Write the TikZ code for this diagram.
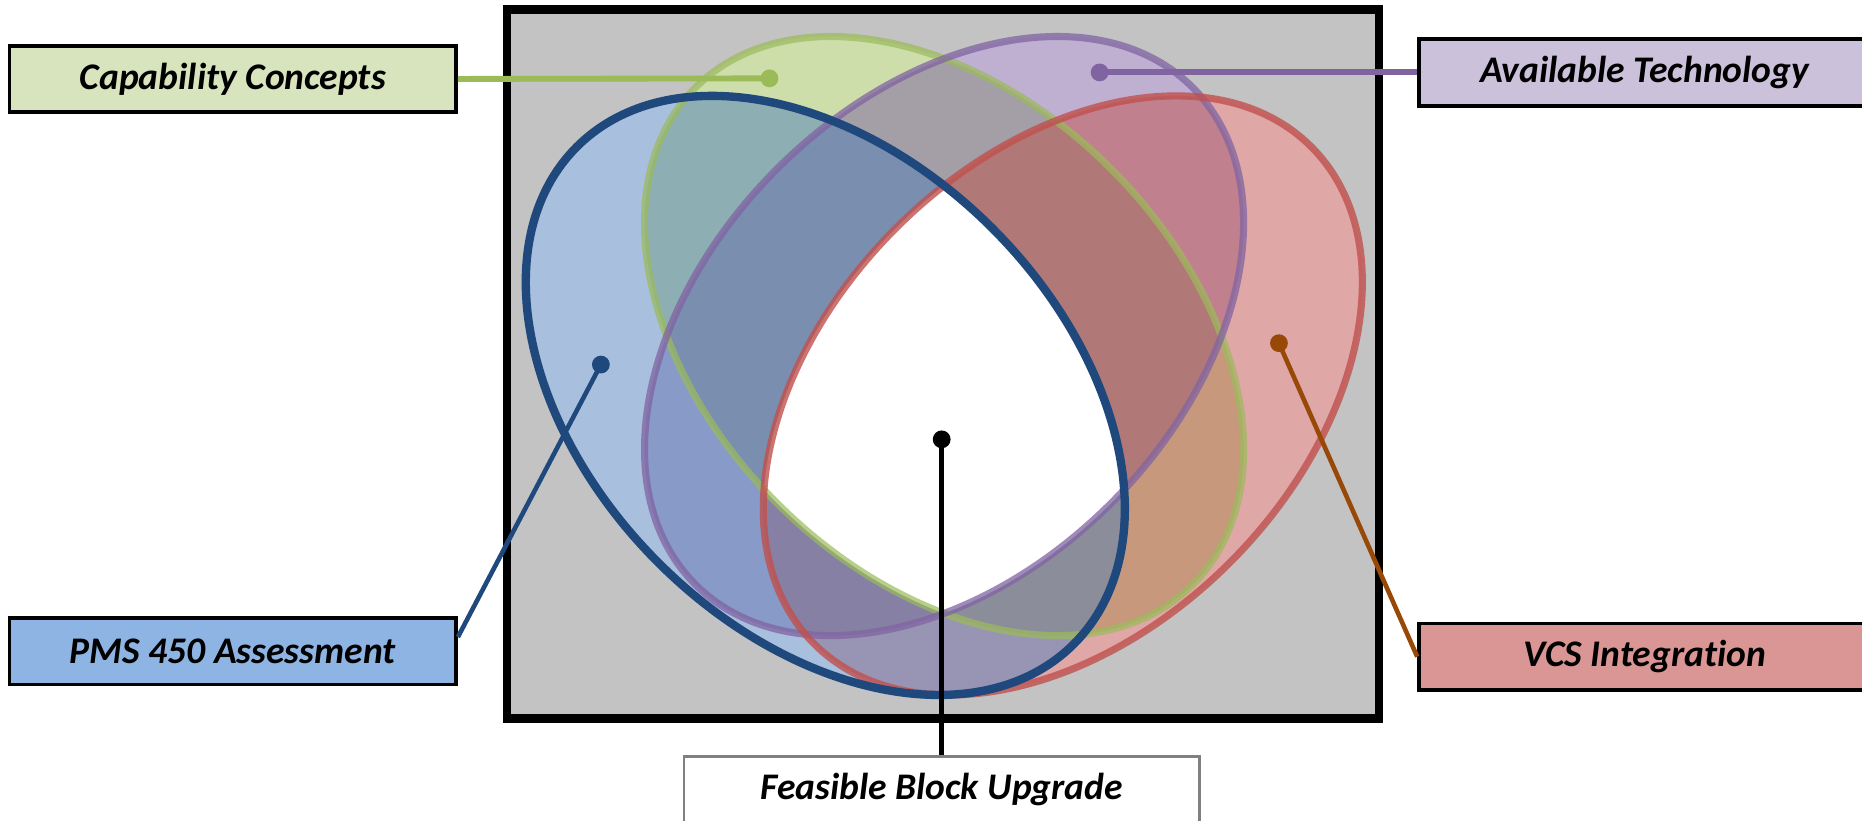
\documentclass[tikz,border=0pt]{standalone}
\usepackage{fontspec}
\setmainfont{Carlito}[Ligatures=NoCommon]
\usepackage{tikz}
\usepackage{xcolor}
\usetikzlibrary{calc,positioning}
% outline and box colours
\definecolor{lG}{HTML}{9BBB59}
\definecolor{lP}{HTML}{8064A2}
\definecolor{lB}{HTML}{1F497D}
\definecolor{lR}{HTML}{C0504D}
\definecolor{lBr}{HTML}{984807}
\definecolor{bxG}{HTML}{D7E4BD}
\definecolor{bxP}{HTML}{CCC1DA}
\definecolor{bxB}{HTML}{8EB4E3}
\definecolor{bxR}{HTML}{D99694}
\definecolor{frm}{HTML}{C3C3C3}
% region colours
\definecolor{rG}{RGB}{206,222,171}
\definecolor{rP}{RGB}{191,176,209}
\definecolor{rB}{RGB}{168,191,222}
\definecolor{rR}{RGB}{224,167,167}
\definecolor{rGP}{RGB}{164,159,166}
\definecolor{rGB}{RGB}{141,175,180}
\definecolor{rGR}{RGB}{199,152,124}
\definecolor{rPB}{RGB}{135,154,200}
\definecolor{rPR}{RGB}{192,128,142}
\definecolor{rBR}{RGB}{152,148,180}
\definecolor{rGPB}{RGB}{122,143,176}
\definecolor{rGPR}{RGB}{177,120,120}
\definecolor{rBRP}{RGB}{134,128,164}
\definecolor{rBRG}{RGB}{139,141,155}
\tikzstyle{lbl}=[draw, line width=0.9pt, minimum width=3.76cm, minimum height=0.56cm,
		inner sep=0pt, font=\fontsize{9}{11}\selectfont\bfseries\itshape]
\tikzstyle{dot}=[circle, inner sep=0pt, minimum size=0.15cm]
\tikzstyle{eG}=[shift={(7.95,4.08)}, rotate=-45]
\tikzstyle{eP}=[shift={(7.95,4.08)}, rotate=45]
\tikzstyle{eB}=[shift={(6.95,3.58)}, rotate=-45]
\tikzstyle{eR}=[shift={(8.95,3.58)}, rotate=45]
\newcommand{\egg}{(0,0) ellipse (2.96 and 1.99)}

\begin{document}
\begin{tikzpicture}
            \useasboundingbox (0,0) rectangle (15.68,6.91);
            \draw[line width=2pt, fill=frm] (4.27,0.86) rectangle (11.61,6.83);
            % single regions
            \fill[rG, eG] \egg;
            \fill[rP, eP] \egg;
            \fill[rR, eR] \egg;
            \fill[rB, eB] \egg;
            % pairs
            \begin{scope} \clip[eG] \egg; \fill[rGP, eP] \egg; \end{scope}
            \begin{scope} \clip[eG] \egg; \fill[rGB, eB] \egg; \end{scope}
            \begin{scope} \clip[eG] \egg; \fill[rGR, eR] \egg; \end{scope}
            \begin{scope} \clip[eP] \egg; \fill[rPB, eB] \egg; \end{scope}
            \begin{scope} \clip[eP] \egg; \fill[rPR, eR] \egg; \end{scope}
            \begin{scope} \clip[eB] \egg; \fill[rBR, eR] \egg; \end{scope}
            % triples
            \begin{scope} \clip[eG] \egg; \clip[eP] \egg; \fill[rGPB, eB] \egg; \end{scope}
            \begin{scope} \clip[eG] \egg; \clip[eP] \egg; \fill[rGPR, eR] \egg; \end{scope}
            \begin{scope} \clip[eB] \egg; \clip[eR] \egg; \fill[rBRP, eP] \egg; \end{scope}
            \begin{scope} \clip[eB] \egg; \clip[eR] \egg; \fill[rBRG, eG] \egg; \end{scope}
            % all four
            \begin{scope} \clip[eG] \egg; \clip[eP] \egg; \clip[eB] \egg; \fill[white, eR] \egg; \end{scope}
            % outlines
            \draw[lG, line width=1.7pt, draw opacity=0.7, eG] \egg;
            \draw[lP, line width=1.7pt, draw opacity=0.75, eP] \egg;
            \draw[lR, line width=1.7pt, draw opacity=0.8, eR] \egg;
            \draw[lB, line width=2pt, eB] \egg;
            % labels
            \node[lbl, fill=bxG] (cap) at (1.96,6.245) {Capability Concepts};
            \node[lbl, fill=bxP, minimum width=3.8cm] (avt) at (13.85,6.30) {Available Technology};
            \node[lbl, fill=bxB] (pms) at (1.96,1.425) {PMS 450 Assessment};
            \node[lbl, fill=bxR, minimum width=3.8cm] (vcs) at (13.85,1.38) {VCS Integration};
            \node[lbl, draw=gray, line width=0.6pt, fill=white, minimum width=4.34cm] (fbu) at (7.93,0.26) {Feasible Block Upgrade};
            % pointers
            \node[dot, fill=lG] (gdot) at (6.48,6.25) {};
            \node[dot, fill=lP] (pdot) at (9.26,6.30) {};
            \node[dot, fill=lB] (bdot) at (5.06,3.84) {};
            \node[dot, fill=lBr] (rdot) at (10.77,4.02) {};
            \node[dot, fill=black] (fdot) at (7.93,3.21) {};
            \draw[lG, line width=1.4pt] (gdot.center) -- (cap.east);
            \draw[lP, line width=1.4pt] (pdot.center) -- (avt.west);
            \draw[lB, line width=1.1pt] (bdot.center) -- ([yshift=0.12cm]pms.east);
            \draw[lBr, line width=1.1pt] (rdot.center) -- (vcs.west);
            \draw[black, line width=1.3pt] (fdot.center) -- (fbu.north);
\end{tikzpicture}
\end{document}
